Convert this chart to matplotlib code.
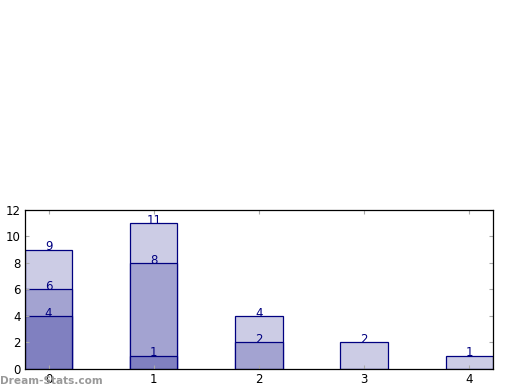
import matplotlib
matplotlib.use("Agg")
import matplotlib.pyplot as plt

categories = [0, 1, 2, 3, 4]
# cumulative levels, drawn back to front (largest first)
level_c = [9, 11, 4, 2, 1]
level_b = [6, 8, 2, 0, 0]
level_a = [4, 1, 0, 0, 0]
y_ticks = [0, 2, 4, 6, 8, 10, 12]

fills = ["#ccccE5", "#a3a3d1", "#8080c0"]
edge = "#000080"

fig = plt.figure(figsize=(5.2, 3.9), dpi=100)
ax = fig.add_axes([0.048, 0.054, 0.9, 0.408])

for vals, col in zip([level_c, level_b, level_a], fills):
    xs = [c for c, v in zip(categories, vals) if v > 0]
    hs = [v for v in vals if v > 0]
    ax.bar(xs, hs, width=0.45, color=col, edgecolor=edge, linewidth=0.9)
    for x, h in zip(xs, hs):
        ax.annotate(str(h), (x, h), xytext=(0, 2), textcoords="offset points",
                    ha="center", va="center", color=edge, fontsize=8.5)

ax.set_xlim(-0.225, 4.225)
ax.set_ylim(0, 12)
ax.set_xticks(categories)
ax.set_yticks(y_ticks)
ax.tick_params(direction="in", length=3, color="#aaaaaa", labelsize=8.5,
               top=True, right=True, pad=3)
for s in ax.spines.values():
    s.set_linewidth(0.9)

fig.text(0.0, 0.01, "Dream-Stats.com", color="#999999", fontsize=7.6,
         fontweight="bold", ha="left", va="bottom")

fig.savefig("out.png", dpi=100)
